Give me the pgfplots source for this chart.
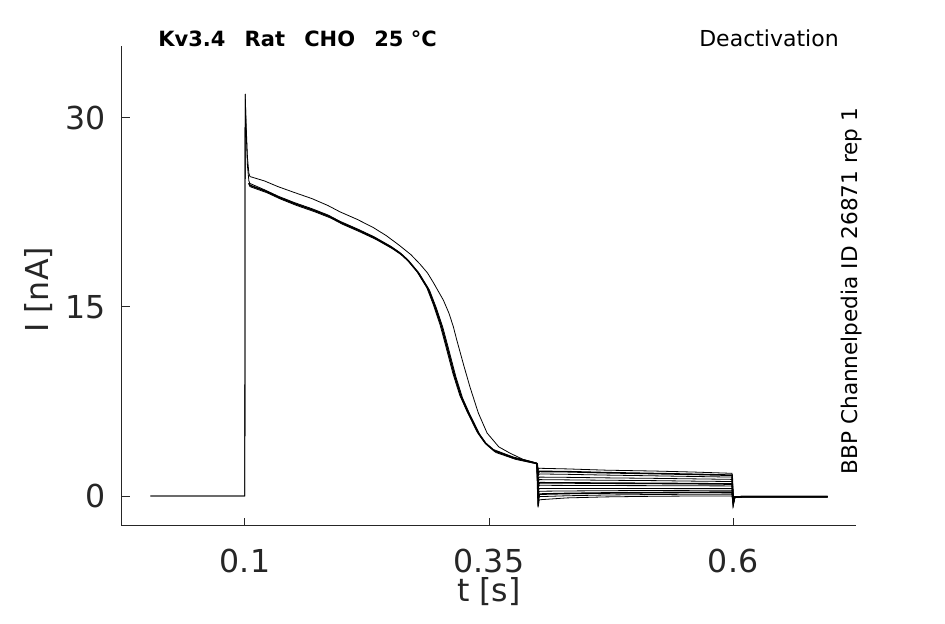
\documentclass[border=0pt]{standalone}
\usepackage{fontspec}
\setmainfont{DejaVu Sans}
\usepackage{pgfplots}
\pgfplotsset{compat=1.18}
\definecolor{axgray}{HTML}{262626}
\begin{document}
\begin{tikzpicture}
\begin{axis}[
  scale only axis, width=367pt, height=240pt,
  xmin=-0.026, xmax=0.726, ymin=-2.38, ymax=35.71,
  axis x line=bottom, axis y line=left,
  x axis line style={-, axgray, line width=0.5pt},
  y axis line style={-, axgray, line width=0.5pt},
  xtick={0.1,0.35,0.6}, ytick={0,15,30},
  xticklabels={0.1,0.35,0.6},
  tick align=inside, major tick length=4pt,
  tick style={axgray, line width=0.5pt},
  /pgf/number format/assume math mode=true,
  ticklabel style={font=\fontsize{15.8}{19}\selectfont, text=axgray},
  xticklabel style={inner sep=0pt, anchor=north, yshift=-11.5pt},
  yticklabel style={inner sep=0pt, anchor=east, xshift=-8pt},
  clip=false,
  cycle list={{black, line width=0.8pt, line join=round, mark=none}},
]
% bundle traces (activation part)
\addplot coordinates {(0.003,0)(0.0998,0)(0.1002,31.9)(0.1012,29.0)(0.1025,26.2)(0.1040,25.0)(0.1051,24.8)(0.1200,24.3)(0.1338,23.8)(0.1500,23.3)(0.1686,22.8)(0.1850,22.3)(0.1973,21.8)(0.2150,21.2)(0.2315,20.6)(0.2486,19.85)(0.2580,19.35)(0.2657,18.8)(0.2759,17.85)(0.2862,16.55)(0.2929,15.2)(0.2998,13.6)(0.3050,12.1)(0.3131,9.7)(0.3200,8.0)(0.3275,6.7)(0.3377,5.1)(0.3450,4.3)(0.3541,3.7)(0.3746,3.1)(0.3900,2.8)(0.3992,2.6)};
\addplot coordinates {(0.1040,24.85)(0.1051,24.65)(0.1215,24.18)(0.1353,23.68)(0.1515,23.18)(0.1701,22.68)(0.1865,22.18)(0.1988,21.68)(0.2165,21.08)(0.2330,20.48)(0.2501,19.73)(0.2595,19.23)(0.2672,18.68)(0.2774,17.73)(0.2877,16.43)(0.2944,15.08)(0.3013,13.48)(0.3065,11.98)(0.3146,9.58)(0.3215,7.88)(0.3290,6.58)(0.3392,4.98)(0.3465,4.18)(0.3556,3.58)(0.3761,3.0)(0.3915,2.72)(0.3992,2.58)};
\addplot coordinates {(0.1040,24.75)(0.1051,24.55)(0.1230,24.05)(0.1368,23.55)(0.1530,23.05)(0.1716,22.55)(0.1880,22.05)(0.2003,21.55)(0.2180,20.95)(0.2345,20.35)(0.2516,19.6)(0.2610,19.1)(0.2687,18.55)(0.2789,17.6)(0.2892,16.3)(0.2959,14.95)(0.3028,13.35)(0.3080,11.85)(0.3161,9.45)(0.3230,7.75)(0.3305,6.45)(0.3407,4.85)(0.3480,4.05)(0.3571,3.45)(0.3776,2.9)(0.3930,2.65)(0.3992,2.55)};
% separate trace
\addplot coordinates {(0.003,0)(0.0998,0)(0.1002,31.9)(0.1012,29.4)(0.1025,26.9)(0.1040,25.6)(0.1051,25.35)(0.1200,25.0)(0.1338,24.55)(0.1500,24.1)(0.1686,23.6)(0.1850,23.05)(0.1973,22.55)(0.2150,21.95)(0.2315,21.3)(0.2450,20.65)(0.2588,19.85)(0.2700,19.15)(0.2793,18.4)(0.2870,17.7)(0.2929,16.95)(0.3032,15.55)(0.3090,14.5)(0.3134,13.45)(0.3169,12.4)(0.3240,10.4)(0.3305,8.65)(0.3390,6.6)(0.3480,5.0)(0.3600,3.9)(0.3715,3.4)(0.3850,2.9)(0.3992,2.6)};
% tail currents
\addplot coordinates {(0.3992,2.6)(0.4003,2.1)(0.4015,2.2)(0.43,2.15)(0.47,2.05)(0.52,1.98)(0.56,1.9)(0.599,1.8)(0.6003,-0.55)(0.6015,-0.1)(0.61,-0.05)(0.697,-0.05)};
\addplot coordinates {(0.3992,2.6)(0.4003,1.8)(0.4015,1.95)(0.43,1.93)(0.47,1.85)(0.52,1.78)(0.56,1.72)(0.599,1.65)(0.6003,-0.55)(0.6015,-0.1)(0.61,-0.05)(0.697,-0.05)};
\addplot coordinates {(0.3992,2.6)(0.4003,1.6)(0.4015,1.75)(0.43,1.72)(0.47,1.66)(0.52,1.6)(0.56,1.55)(0.599,1.5)(0.6003,-0.55)(0.6015,-0.1)(0.61,-0.05)(0.697,-0.05)};
\addplot coordinates {(0.3992,2.6)(0.4003,1.3)(0.4015,1.5)(0.43,1.48)(0.47,1.44)(0.52,1.4)(0.56,1.36)(0.599,1.32)(0.6003,-0.55)(0.6015,-0.1)(0.61,-0.05)(0.697,-0.05)};
\addplot coordinates {(0.3992,2.6)(0.4003,1.1)(0.4015,1.3)(0.43,1.28)(0.47,1.25)(0.52,1.22)(0.56,1.18)(0.599,1.15)(0.6003,-0.55)(0.6015,-0.1)(0.61,-0.05)(0.697,-0.05)};
\addplot coordinates {(0.3992,2.6)(0.4003,0.8)(0.4015,1.05)(0.43,1.04)(0.47,1.02)(0.52,1.0)(0.56,0.98)(0.599,0.95)(0.6003,-0.55)(0.6015,-0.1)(0.61,-0.05)(0.697,-0.05)};
\addplot coordinates {(0.3992,2.6)(0.4003,0.6)(0.4015,0.85)(0.43,0.84)(0.47,0.83)(0.52,0.82)(0.56,0.81)(0.599,0.8)(0.6003,-0.55)(0.6015,-0.1)(0.61,-0.05)(0.697,-0.05)};
\addplot coordinates {(0.3992,2.6)(0.4003,0.3)(0.4015,0.6)(0.43,0.6)(0.47,0.6)(0.52,0.6)(0.56,0.6)(0.599,0.6)(0.6003,-0.55)(0.6015,-0.1)(0.61,-0.05)(0.697,-0.05)};
\addplot coordinates {(0.3992,2.6)(0.4003,0.0)(0.4015,0.38)(0.43,0.4)(0.47,0.42)(0.52,0.44)(0.56,0.45)(0.599,0.45)(0.6003,-0.55)(0.6015,-0.1)(0.61,-0.05)(0.697,-0.05)};
\addplot coordinates {(0.3992,2.6)(0.4003,-0.3)(0.4015,0.15)(0.43,0.2)(0.47,0.24)(0.52,0.27)(0.56,0.29)(0.599,0.3)(0.6003,-0.55)(0.6015,-0.1)(0.61,-0.05)(0.697,-0.05)};
\addplot coordinates {(0.3992,2.6)(0.4003,-0.6)(0.4015,-0.05)(0.43,0.02)(0.47,0.08)(0.52,0.12)(0.56,0.14)(0.599,0.15)(0.6003,-0.55)(0.6015,-0.1)(0.61,-0.05)(0.697,-0.05)};
\addplot coordinates {(0.3992,2.6)(0.4003,-0.9)(0.4015,-0.3)(0.43,-0.15)(0.47,-0.07)(0.52,-0.02)(0.56,0.0)(0.599,0.0)(0.6003,-0.55)(0.6015,-0.1)(0.61,-0.05)(0.697,-0.05)};
% texts
\node[anchor=base west, inner sep=0pt, font=\fontsize{10.5}{12}\selectfont\bfseries] at (rel axis cs:0.049,0.998) {Kv3.4\hspace{9.6pt}Rat\hspace{9.6pt}CHO\hspace{9.6pt}25 °C};
\node[anchor=base east, inner sep=0pt, font=\fontsize{11}{12}\selectfont] at (rel axis cs:0.977,0.998) {Deactivation};
\node[anchor=base, inner sep=0pt, rotate=90, font=\fontsize{10.8}{12}\selectfont] at (rel axis cs:1.0015,0.4896) {BBP Channelpedia ID 26871 rep 1};
\node[anchor=base, inner sep=0pt, font=\fontsize{15.8}{19}\selectfont, text=axgray] at (rel axis cs:0.5,-0.158) {t [s]};
\node[anchor=base, inner sep=0pt, rotate=90, font=\fontsize{15.8}{19}\selectfont, text=axgray] at (rel axis cs:-0.1008,0.492) {I [nA]};
\end{axis}
\pgfresetboundingbox
\path (-61pt,-49pt) rectangle (411.5pt,263pt);
\end{tikzpicture}
\end{document}
